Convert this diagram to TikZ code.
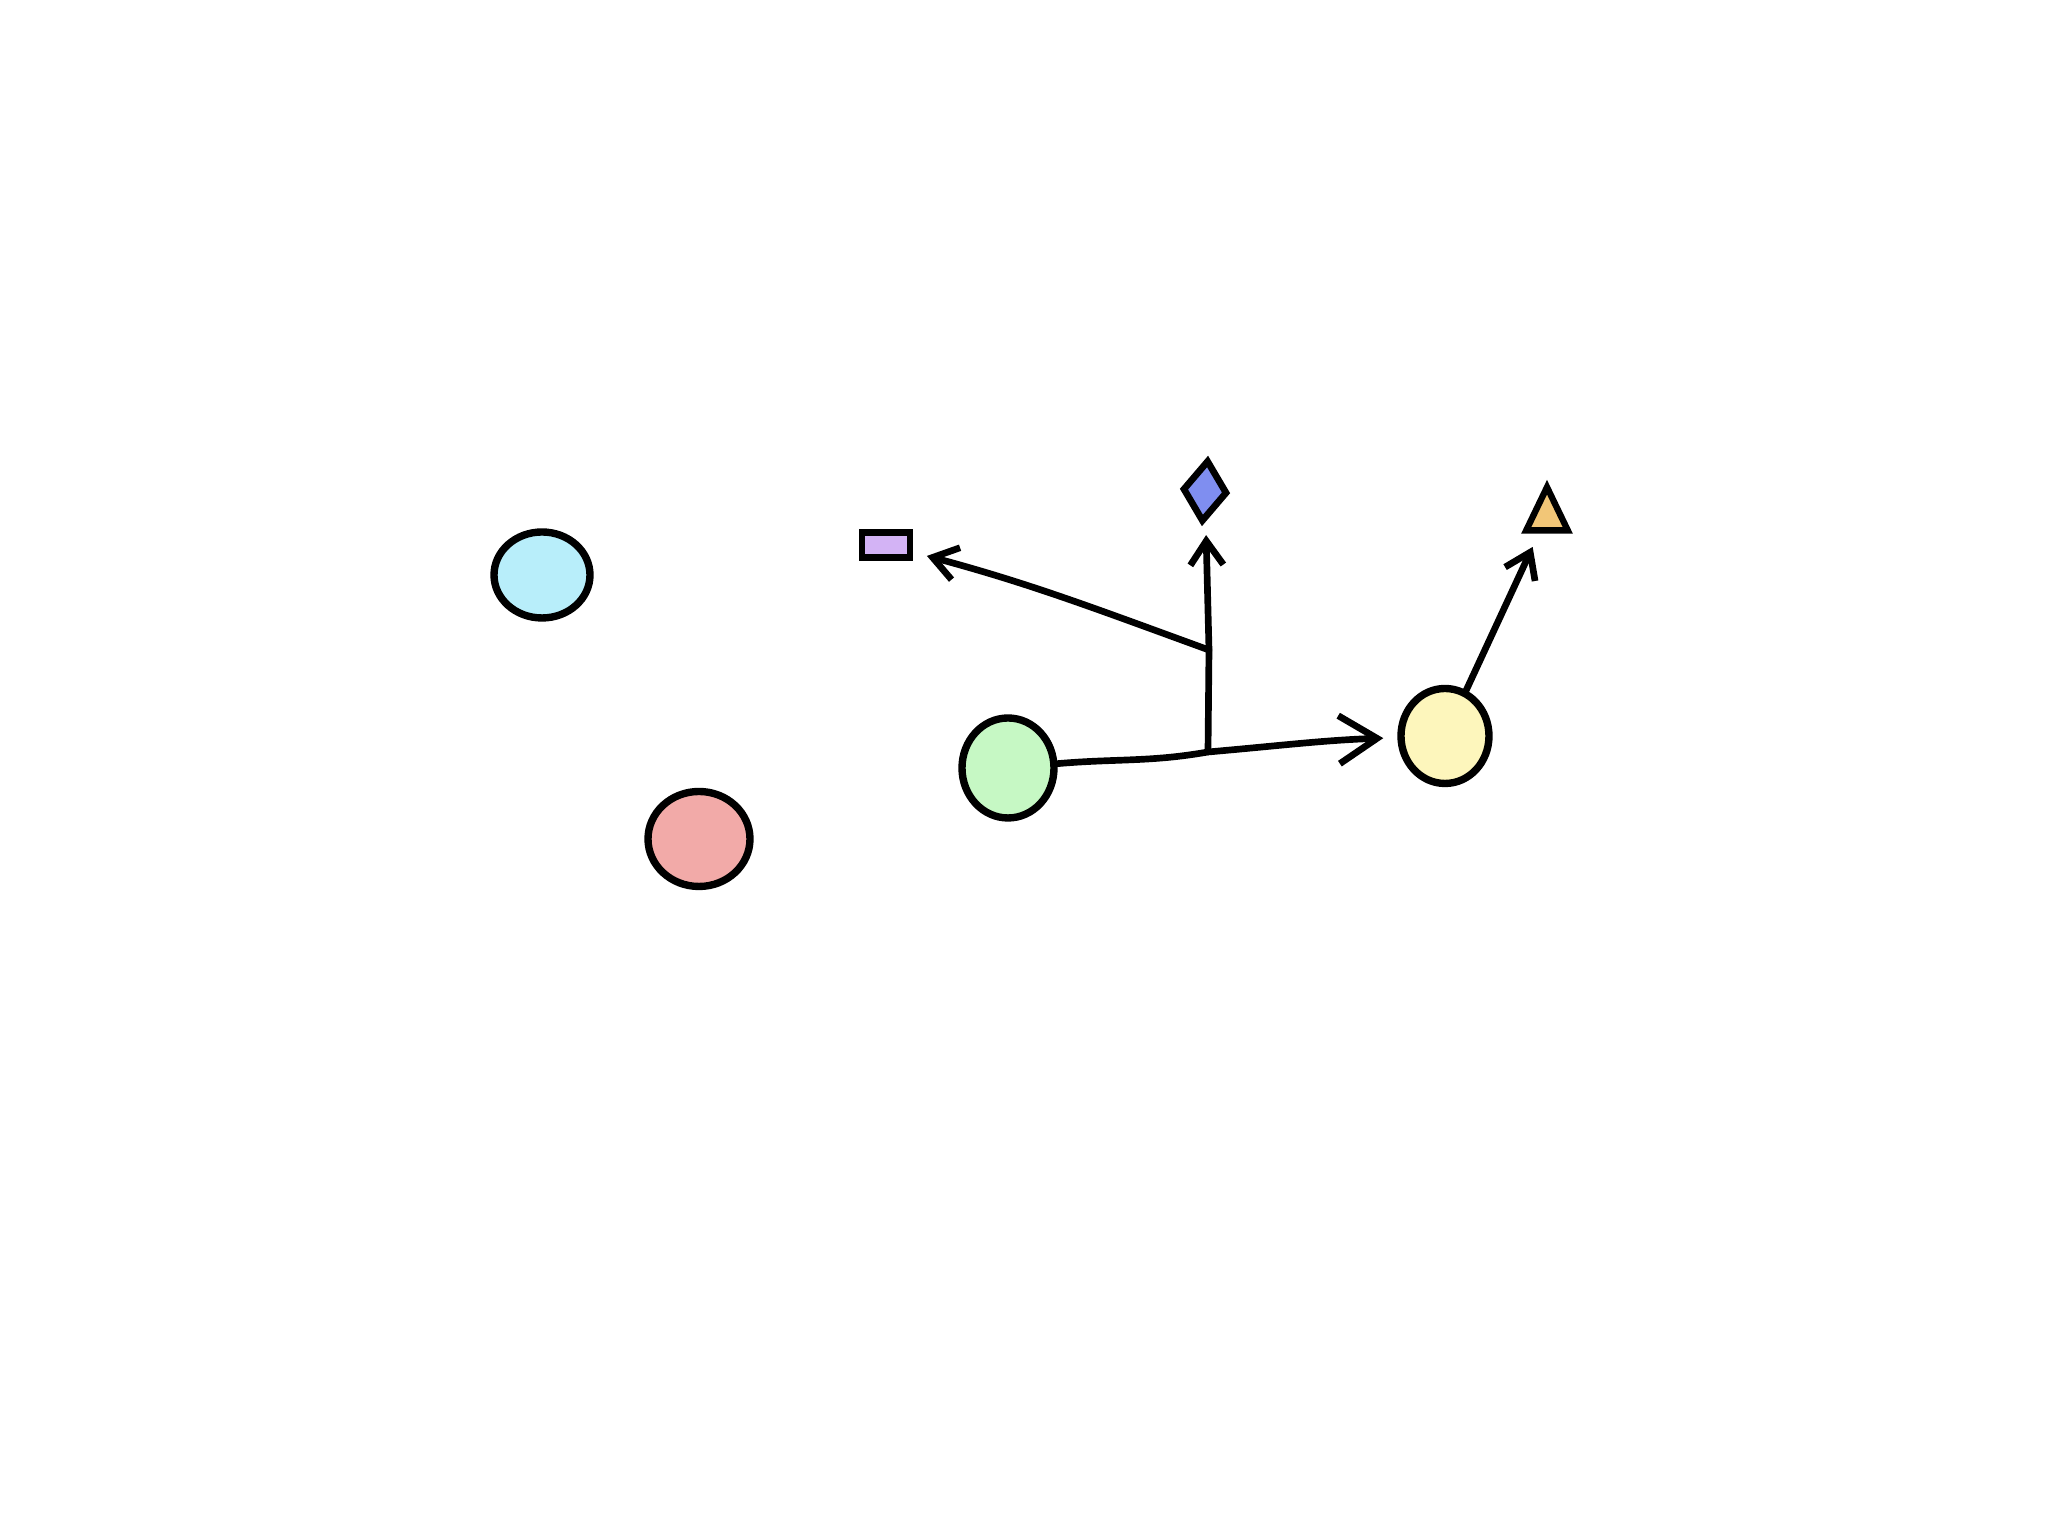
\documentclass[tikz,border=0pt]{standalone}
\usetikzlibrary{arrows.meta,shapes.geometric,positioning}

\begin{document}
\begin{tikzpicture}[
    blob/.style={ellipse,draw=black,line width=2.1pt,inner sep=0pt},
    arr/.style={line width=1.9pt,line cap=round,-{Straight Barb[length=2.4mm,width=3.3mm]},shorten >=4pt},
    bigarr/.style={line width=1.9pt,line cap=round,-{Straight Barb[length=3.8mm,width=4.8mm]},shorten >=4pt}
  ]
    \useasboundingbox (0,0) rectangle (20.48,15.36);

    \node[blob,fill={rgb,255:red,184;green,238;blue,250},minimum width=0.96cm,minimum height=0.86cm] (B) at (5.42,9.61) {};
    \node[blob,fill={rgb,255:red,242;green,170;blue,168},minimum width=1.02cm,minimum height=0.95cm] (R) at (6.99,6.97) {};
    \node[blob,fill={rgb,255:red,198;green,248;blue,196},minimum width=0.92cm,minimum height=1.00cm] (G) at (10.08,7.68) {};
    \node[blob,fill={rgb,255:red,253;green,246;blue,188},minimum width=0.88cm,minimum height=0.95cm] (Y) at (14.45,8.00) {};

    \node[rectangle,draw=black,line width=1.9pt,fill={rgb,255:red,211;green,179;blue,245},minimum width=0.48cm,minimum height=0.25cm,inner sep=0pt] (P) at (8.86,9.91) {};
    \node[diamond,draw=black,line width=1.9pt,fill={rgb,255:red,127;green,142;blue,240},minimum width=0.45cm,minimum height=0.62cm,inner sep=0pt,rotate=-5] (D) at (12.05,10.45) {};
    \node[regular polygon,regular polygon sides=3,draw=black,line width=1.8pt,fill={rgb,255:red,242;green,198;blue,119},minimum size=0.48cm,inner sep=0pt,yscale=1.2] (T) at (15.47,10.20) {};

    \coordinate (J) at (12.08,7.84);
    \coordinate (K) at (12.09,8.86);

    \draw[bigarr] (G) to[out=5,in=190] (J) to[out=5,in=182] (Y);
    \draw[arr] (J) -- (K) -- (D);
    \draw[arr] (K) to[out=160,in=-15] (P);
    \draw[arr] (Y) -- (T);
  \end{tikzpicture}
\end{document}
